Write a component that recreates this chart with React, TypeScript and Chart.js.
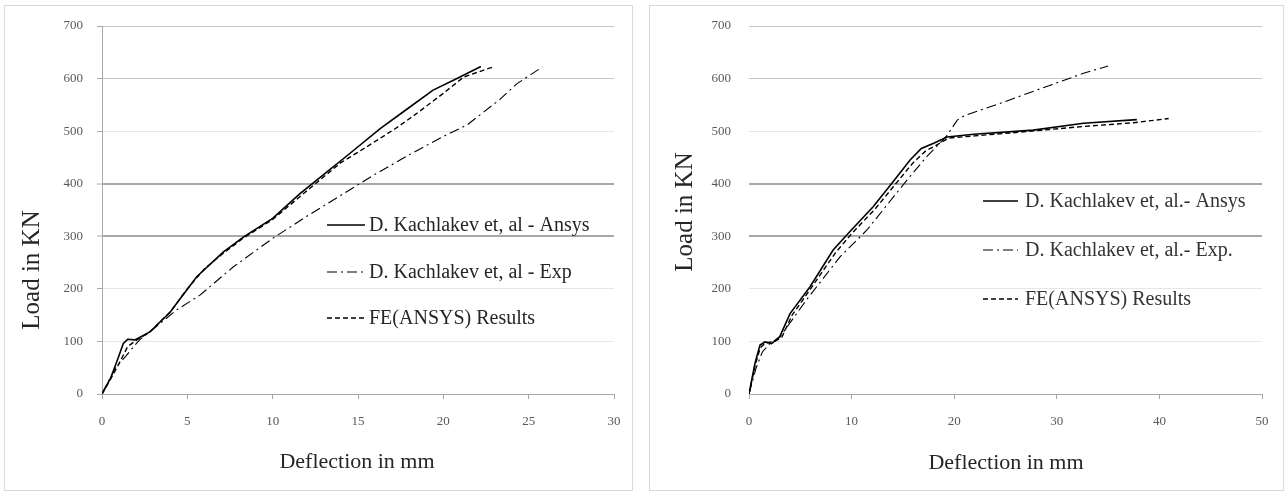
import React, { useEffect, useRef } from 'react';
import Chart from 'chart.js/auto';

// ---------- Data (left chart) ----------
const leftAnsysX = [0, 0.5, 0.86, 1.25, 1.5, 1.93, 2.8, 4.0, 4.6, 5.55, 7.1, 8.3, 10.0, 11.6, 13.2, 14.5, 16.3, 18.0, 19.4, 20.8, 22.2];
const leftAnsysY = [0, 30, 61, 96, 104, 103, 118, 156, 182, 223, 270, 299, 334, 381, 423, 457, 505, 545, 578, 600, 623];
const leftExpX = [0, 0.8, 1.4, 1.85, 2.2, 2.8, 4.37, 5.74, 7.7, 10.0, 12.0, 14.0, 16.0, 18.0, 20.0, 21.4, 23.3, 24.3, 25.8];
const leftExpY = [0, 50, 72, 90, 103, 118, 160, 188, 242, 296, 338, 378, 418, 455, 490, 512, 560, 590, 622];
const leftFeX = [0, 0.5, 1.0, 1.5, 2.0, 2.8, 4.0, 5.0, 6.0, 7.0, 8.3, 10.0, 12.5, 14.0, 15.5, 17.2, 18.5, 20.0, 21.2, 22.9];
const leftFeY = [0, 28, 58, 90, 102, 118, 156, 200, 238, 265, 297, 332, 400, 440, 470, 505, 535, 572, 603, 622];

// ---------- Data (right chart) ----------
const rightAnsysX = [0, 0.58, 1.07, 1.56, 2.2, 3.0, 4.0, 5.95, 8.2, 9.84, 12.1, 14.06, 15.7, 16.8, 18.0, 19.3, 21.9, 27.7, 32.6, 37.8];
const rightAnsysY = [0, 58, 93, 99, 96, 109, 153, 204, 274, 309, 356, 404, 445, 467, 477, 489, 494, 502, 515, 522];
const rightExpX = [0, 0.7, 1.3, 2.0, 3.0, 5.6, 8.87, 11.5, 15.4, 17.3, 18.5, 19.3, 20.3, 21.05, 24.5, 29.3, 32.6, 35.0];
const rightExpY = [0, 50, 80, 95, 108, 179, 261, 312, 407, 451, 475, 492, 521, 530, 553, 587, 610, 624];
const rightFeX = [0, 0.6, 1.1, 1.6, 2.5, 3.2, 4.2, 6.0, 8.4, 10.0, 12.3, 14.3, 16.0, 17.2, 18.4, 19.5, 22, 27, 32, 37.5, 40.9];
const rightFeY = [0, 55, 88, 97, 100, 108, 150, 200, 268, 305, 352, 400, 440, 462, 475, 487, 491, 499, 508, 516, 524];

// ---------- Labels ----------
const leftLegend = ['D. Kachlakev et, al - Ansys', 'D. Kachlakev et, al - Exp', 'FE(ANSYS) Results'];
const rightLegend = ['D. Kachlakev et, al.- Ansys', 'D. Kachlakev et, al.- Exp.', 'FE(ANSYS) Results'];
const xTitle = 'Deflection in mm';
const yTitle = 'Load in KN';
const yMax = 700;
const yStep = 100;
const leftXMax = 30;
const leftXStep = 5;
const rightXMax = 50;
const rightXStep = 10;

const FONT = '"Liberation Serif", "Times New Roman", serif';

function pts(xs: number[], ys: number[]) {
  return xs.map((x, i) => ({ x, y: ys[i] }));
}

const gridColor = (v: number) => {
  if (v === 300 || v === 400) return '#a8a8a8';
  if (v === 600 || v === 700 || v === 0) return '#c4c4c4';
  return '#e6e6e6';
};
const gridWidth = (v: number) => (v === 300 || v === 400 ? 2 : 1);

type PanelCfg = {
  xs: number[][];
  ys: number[][];
  legend: string[];
  xMax: number;
  xStep: number;
  yAxisLeft: number;
  padRight: number;
  showYAxisLine: boolean;
  yTitlePos: [number, number];
  xTitlePos: [number, number];
  legendLine: [number, number];
  legendText: number;
  legendRows: number[];
  legendColor: string;
};

function makeOverlay(cfg: PanelCfg) {
  return {
    id: 'overlay',
    afterDraw(chart: any) {
      const ctx = chart.ctx as CanvasRenderingContext2D;
      ctx.save();
      ctx.fillStyle = '#262626';
      ctx.textAlign = 'center';
      ctx.textBaseline = 'middle';
      ctx.font = `22px ${FONT}`;
      ctx.fillText(xTitle, cfg.xTitlePos[0], cfg.xTitlePos[1]);
      ctx.save();
      ctx.translate(cfg.yTitlePos[0], cfg.yTitlePos[1]);
      ctx.rotate(-Math.PI / 2);
      ctx.font = `25px ${FONT}`;
      ctx.fillText(yTitle, 0, 0);
      ctx.restore();

      // legend
      ctx.font = `20px ${FONT}`;
      ctx.textAlign = 'left';
      chart.data.datasets.forEach((ds: any, i: number) => {
        const y = cfg.legendRows[i];
        ctx.save();
        ctx.strokeStyle = '#000';
        ctx.lineWidth = ds.borderWidth;
        ctx.setLineDash(ds.borderDash || []);
        ctx.beginPath();
        ctx.moveTo(cfg.legendLine[0], y);
        ctx.lineTo(cfg.legendLine[1], y);
        ctx.stroke();
        ctx.restore();
        ctx.fillStyle = cfg.legendColor;
        ctx.fillText(ds.label, cfg.legendText, y + 1);
      });
      ctx.restore();
    },
  };
}

function buildConfig(cfg: PanelCfg): any {
  const styles = [
    { borderWidth: 1.6, borderDash: [] as number[] },
    { borderWidth: 1.1, borderDash: [10, 4, 2, 4] },
    { borderWidth: 1.4, borderDash: [5, 3] },
  ];
  return {
    type: 'scatter',
    data: {
      datasets: cfg.xs.map((xs, i) => ({
        label: cfg.legend[i],
        data: pts(xs, cfg.ys[i]),
        showLine: true,
        borderColor: '#000',
        backgroundColor: '#000',
        borderWidth: styles[i].borderWidth,
        borderDash: styles[i].borderDash,
        pointRadius: 0,
        tension: 0,
      })),
    },
    options: {
      responsive: false,
      animation: false,
      layout: { padding: { left: 0, right: cfg.padRight, top: 20, bottom: 0 } },
      plugins: { legend: { display: false }, tooltip: { enabled: false } },
      scales: {
        x: {
          type: 'linear',
          min: 0,
          max: cfg.xMax,
          afterFit: (s: any) => {
            s.height = 96;
            s.paddingLeft = 0;
            s.paddingRight = 0;
          },
          ticks: {
            stepSize: cfg.xStep,
            color: '#595959',
            padding: 15,
            font: { family: FONT, size: 13 },
          },
          grid: {
            drawOnChartArea: false,
            drawTicks: true,
            tickLength: 5,
            color: '#a8a8a8',
          },
          border: { display: true, color: '#a8a8a8', width: 1 },
        },
        y: {
          type: 'linear',
          min: 0,
          max: yMax,
          afterFit: (s: any) => {
            s.width = cfg.yAxisLeft;
            s.paddingTop = 0;
            s.paddingBottom = 0;
          },
          ticks: {
            stepSize: yStep,
            color: '#595959',
            padding: cfg.showYAxisLine ? 14 : 18,
            font: { family: FONT, size: 13 },
          },
          grid: {
            color: (c: any) => gridColor(c.tick ? c.tick.value : 0),
            lineWidth: (c: any) => gridWidth(c.tick ? c.tick.value : 0),
            drawTicks: cfg.showYAxisLine,
            tickLength: 5,
            tickColor: '#a8a8a8',
            tickWidth: 1,
          },
          border: { display: cfg.showYAxisLine, color: '#a8a8a8', width: 1 },
        },
      },
    },
    plugins: [makeOverlay(cfg)],
  };
}

function Panel({ left, width, cfg }: { left: number; width: number; cfg: PanelCfg }) {
  const ref = useRef<HTMLCanvasElement>(null);
  useEffect(() => {
    const chart = new Chart(ref.current as HTMLCanvasElement, buildConfig(cfg));
    return () => chart.destroy();
  }, []);
  return (
    <div
      style={{
        position: 'absolute',
        left,
        top: 5,
        width,
        height: 486,
        border: '1px solid #d9d9d9',
        boxSizing: 'border-box',
        background: '#fff',
      }}
    >
      <canvas ref={ref} width={width - 2} height={484} style={{ display: 'block', width: width - 2, height: 484 }} />
    </div>
  );
}

const leftCfg: PanelCfg = {
  xs: [leftAnsysX, leftExpX, leftFeX],
  ys: [leftAnsysY, leftExpY, leftFeY],
  legend: leftLegend,
  xMax: leftXMax,
  xStep: leftXStep,
  yAxisLeft: 97,
  padRight: 18,
  showYAxisLine: true,
  yTitlePos: [27, 264],
  xTitlePos: [352, 456],
  legendLine: [322, 360],
  legendText: 364,
  legendRows: [219, 266, 312],
  legendColor: '#262626',
};

const rightCfg: PanelCfg = {
  xs: [rightAnsysX, rightExpX, rightFeX],
  ys: [rightAnsysY, rightExpY, rightFeY],
  legend: rightLegend,
  xMax: rightXMax,
  xStep: rightXStep,
  yAxisLeft: 99,
  padRight: 21,
  showYAxisLine: false,
  yTitlePos: [35, 206],
  xTitlePos: [356, 457],
  legendLine: [333, 368],
  legendText: 375,
  legendRows: [195, 244, 293],
  legendColor: '#333333',
};

export default function App() {
  return (
    <div style={{ position: 'fixed', left: 0, top: 0, width: 1286, height: 493, background: '#fff' }}>
      <Panel left={4} width={629} cfg={leftCfg} />
      <Panel left={649} width={635} cfg={rightCfg} />
    </div>
  );
}
